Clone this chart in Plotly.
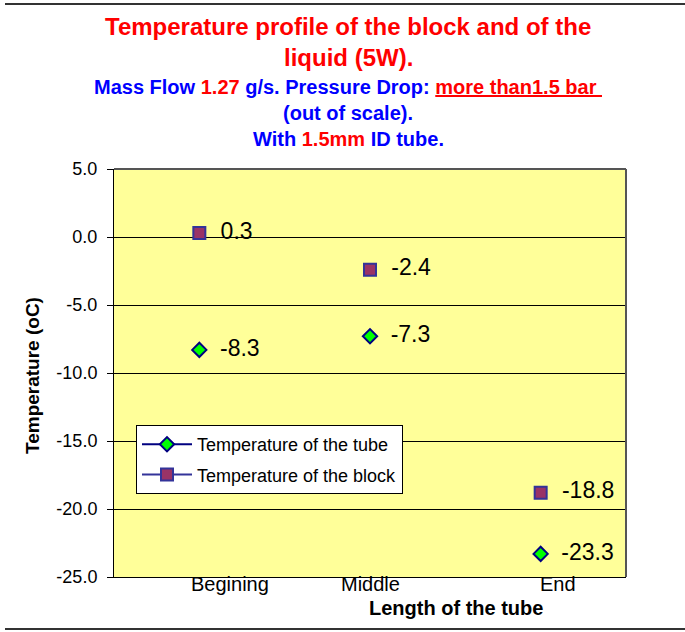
"""Temperature profile of the block and of the liquid (5W)."""
import plotly.graph_objects as go

# data
positions = ["Begining", "Middle", "End"]
x_idx = [0, 1, 2]
tube_temp = [-8.3, -7.3, -23.3]
block_temp = [0.3, -2.4, -18.8]
y_ticks = [5, 0, -5, -10, -15, -20, -25]

FONT = "Liberation Sans, Arial, sans-serif"
RED = "#FF0000"
BLUE = "#0000FF"
GAP = "\u00a0\u00a0"  # space between marker and data label

W, H = 685, 632
L, R, T, B = 114, 626, 169, 577  # plot area in pixels


def px(x):
    return (x - L) / (R - L)


def py(y):
    return (B - y) / (B - T)


fig = go.Figure()

# points (no connecting lines in the plot)
fig.add_trace(go.Scatter(
    x=x_idx, y=tube_temp, mode="markers+text",
    text=[f"{GAP}{v:.1f}" for v in tube_temp], textposition="middle right",
    textfont=dict(size=23, color="black", family=FONT),
    marker=dict(symbol="diamond", size=11, color="#00FF00",
                line=dict(color="#000080", width=2)),
    showlegend=False, cliponaxis=False,
))
fig.add_trace(go.Scatter(
    x=x_idx, y=block_temp, mode="markers+text",
    text=[f"{GAP}{v:.1f}" for v in block_temp], textposition="middle right",
    textfont=dict(size=23, color="black", family=FONT),
    marker=dict(symbol="square", size=12, color="#993366",
                line=dict(color="#333399", width=2)),
    showlegend=False, cliponaxis=False,
))

# legend entries (line + marker like the original)
fig.add_trace(go.Scatter(
    x=[None], y=[None], mode="lines+markers", name="Temperature of the tube",
    line=dict(color="#000080", width=2),
    marker=dict(symbol="diamond", size=11, color="#00FF00",
                line=dict(color="#000080", width=2)),
    legendgroup="a",
))
fig.add_trace(go.Scatter(
    x=[None], y=[None], mode="lines+markers", name="Temperature of the block",
    line=dict(color="#333399", width=2),
    marker=dict(symbol="square", size=12, color="#993366",
                line=dict(color="#333399", width=2)),
    legendgroup="b",
))

annotations = []

# title lines
title_lines = [
    (27, 24, f"<b><span style='color:{RED}'>Temperature profile of the block and of the</span></b>"),
    (57, 24, f"<b><span style='color:{RED}'>liquid (5W).</span></b>"),
    (87, 20, f"<b>Mass Flow <span style='color:{RED}'>1.27</span> g/s. Pressure Drop: "
             f"<span style='color:{RED}'><u>more than1.5 bar\u00a0</u></span></b>"),
    (113, 20, "<b>(out of scale).</b>"),
    (139, 20, f"<b>With <span style='color:{RED}'>1.5mm</span> ID tube.</b>"),
]
for y_px, size, txt in title_lines:
    annotations.append(dict(
        text=txt, xref="paper", yref="paper", x=px(348), y=py(y_px),
        xanchor="center", yanchor="middle", showarrow=False,
        font=dict(size=size, color=BLUE, family=FONT),
    ))

# category labels under the axis
label_x = [0.18, 1.0, 2.1]
for lx, name in zip(label_x, positions):
    annotations.append(dict(
        text=name, xref="x", yref="paper", x=lx, y=py(584),
        xanchor="center", yanchor="middle", showarrow=False,
        font=dict(size=20, color="black", family=FONT),
    ))

# axis titles
annotations.append(dict(
    text="<b>Length of the tube</b>", xref="paper", yref="paper",
    x=px(456), y=py(608), xanchor="center", yanchor="middle", showarrow=False,
    font=dict(size=20, color="black", family=FONT),
))
annotations.append(dict(
    text="<b>Temperature (oC)</b>", xref="paper", yref="paper",
    x=px(32), y=py(376), xanchor="center", yanchor="middle", showarrow=False,
    textangle=-90, font=dict(size=19, color="black", family=FONT),
))

shapes = [
    # plot frame (top / right edges grey)
    dict(type="line", xref="paper", yref="paper", x0=0, x1=1, y0=1, y1=1,
         line=dict(color="#555555", width=2)),
    dict(type="line", xref="paper", yref="paper", x0=1, x1=1, y0=0, y1=1,
         line=dict(color="#555555", width=2)),
    # chart frame lines at top and bottom
    dict(type="line", xref="paper", yref="paper", x0=px(5), x1=px(685),
         y0=py(4), y1=py(4), line=dict(color="#333333", width=2)),
    dict(type="line", xref="paper", yref="paper", x0=px(5), x1=px(685),
         y0=py(629), y1=py(629), line=dict(color="#333333", width=2)),
]

fig.update_layout(
    width=W, height=H,
    margin=dict(l=L, r=W - R, t=T, b=H - B, pad=0),
    paper_bgcolor="white", plot_bgcolor="#FFFF99",
    font=dict(family=FONT, color="black"),
    showlegend=True,
    legend=dict(
        x=px(136), y=py(425), xanchor="left", yanchor="top",
        bgcolor="white", bordercolor="black", borderwidth=1,
        font=dict(size=18, family=FONT, color="black"),
        tracegroupgap=4, traceorder="grouped", itemwidth=50,
    ),
    annotations=annotations,
    shapes=shapes,
)

fig.update_xaxes(
    range=[-0.5, 2.5], showgrid=False, zeroline=False,
    showticklabels=False, ticks="",
    showline=True, linecolor="black", linewidth=1,
)
fig.update_yaxes(
    range=[-25, 5], tickvals=y_ticks, ticktext=[f"{v:.1f}" for v in y_ticks],
    showgrid=True, gridcolor="black", gridwidth=1, zeroline=False,
    ticks="outside", ticklen=6, tickcolor="black", ticklabelstandoff=6,
    showline=True, linecolor="black", linewidth=1,
    tickfont=dict(size=18, family=FONT, color="black"),
)

fig.write_html("out.html", config={"displayModeBar": False},
               post_script="document.body.style.margin='0';")
